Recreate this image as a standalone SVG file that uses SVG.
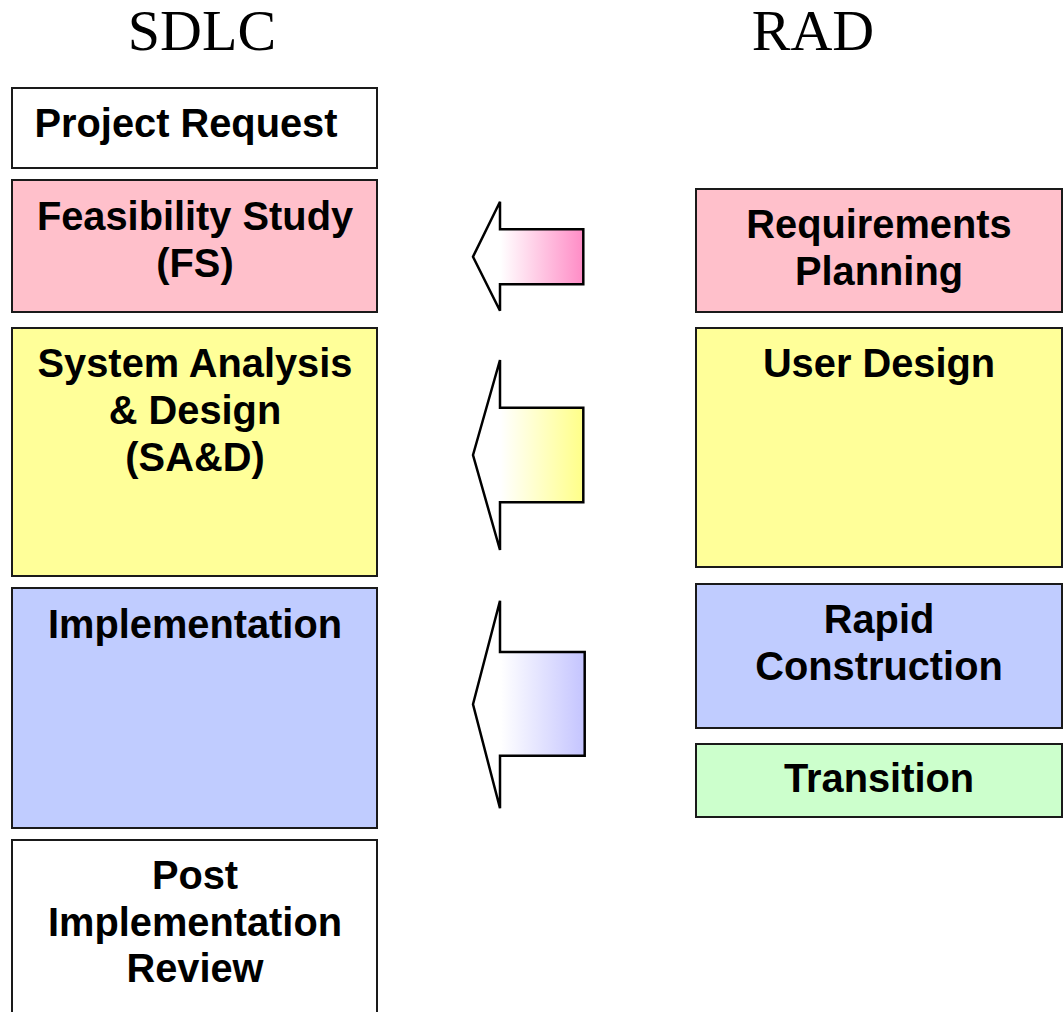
<svg xmlns="http://www.w3.org/2000/svg" width="1064" height="1012" viewBox="0 0 1064 1012">
<style>
.box{stroke:#1a1a1a;stroke-width:2}
.lbl{font-family:"Liberation Sans",Arial,sans-serif;font-weight:bold;font-size:39.8px;fill:#000;text-anchor:middle}
.ttl{font-family:"Liberation Serif","Times New Roman",serif;font-size:58px;fill:#000;text-anchor:middle}
.arr{stroke:#000;stroke-width:2.5;stroke-linejoin:miter}
</style>
<defs>
<linearGradient id="gPink" x1="0" y1="0" x2="1" y2="0">
<stop offset="0.25" stop-color="#ffffff"/><stop offset="1" stop-color="#ff8cc6"/>
</linearGradient>
<linearGradient id="gYellow" x1="0" y1="0" x2="1" y2="0">
<stop offset="0.25" stop-color="#ffffff"/><stop offset="1" stop-color="#ffff88"/>
</linearGradient>
<linearGradient id="gBlue" x1="0" y1="0" x2="1" y2="0">
<stop offset="0.25" stop-color="#ffffff"/><stop offset="1" stop-color="#c4c4ff"/>
</linearGradient>
</defs>
<rect width="1064" height="1012" fill="#ffffff"/>
<g id="titles">
<text class="ttl" x="202" y="50">SDLC</text>
<text class="ttl" x="813" y="50">RAD</text>
</g>
<g id="project-request">
<rect class="box" x="12" y="88" width="365" height="80" fill="#ffffff"/>
<text class="lbl" x="186" y="137">Project Request</text>
</g>
<g id="feasibility-study">
<rect class="box" x="12" y="180" width="365" height="132" fill="#ffc0cb"/>
<text class="lbl" x="195" y="230">Feasibility Study</text>
<text class="lbl" x="195" y="277">(FS)</text>
</g>
<g id="sad">
<rect class="box" x="12" y="328" width="365" height="248" fill="#ffff99"/>
<text class="lbl" x="195" y="377">System Analysis</text>
<text class="lbl" x="195" y="424">&amp; Design</text>
<text class="lbl" x="195" y="471">(SA&amp;D)</text>
</g>
<g id="implementation">
<rect class="box" x="12" y="588" width="365" height="240" fill="#c0ccff"/>
<text class="lbl" x="195" y="638">Implementation</text>
</g>
<g id="post-implementation-review">
<rect class="box" x="12" y="840" width="365" height="200" fill="#ffffff"/>
<text class="lbl" x="195" y="889">Post</text>
<text class="lbl" x="195" y="936">Implementation</text>
<text class="lbl" x="195" y="982">Review</text>
</g>
<g id="requirements-planning">
<rect class="box" x="696" y="189" width="366" height="123" fill="#ffc0cb"/>
<text class="lbl" x="879" y="238">Requirements</text>
<text class="lbl" x="879" y="285">Planning</text>
</g>
<g id="user-design">
<rect class="box" x="696" y="328" width="366" height="239" fill="#ffff99"/>
<text class="lbl" x="879" y="377">User Design</text>
</g>
<g id="rapid-construction">
<rect class="box" x="696" y="584" width="366" height="144" fill="#c0ccff"/>
<text class="lbl" x="879" y="633">Rapid</text>
<text class="lbl" x="879" y="680">Construction</text>
</g>
<g id="transition">
<rect class="box" x="696" y="744" width="366" height="73" fill="#ccffcc"/>
<text class="lbl" x="879" y="792">Transition</text>
</g>
<g id="connectors">
<polygon class="arr" fill="url(#gPink)" points="473,256.7 500,201.7 500,229.3 583.3,229.3 583.3,284.3 500,284.3 500,310.7"/>
<polygon class="arr" fill="url(#gYellow)" points="473,455 500,360 500,407.7 583.3,407.7 583.3,502.3 500,502.3 500,550"/>
<polygon class="arr" fill="url(#gBlue)" points="473,704.3 500,600.7 500,652 584.7,652 584.7,755.7 500,755.7 500,808.3"/>
</g>
</svg>
